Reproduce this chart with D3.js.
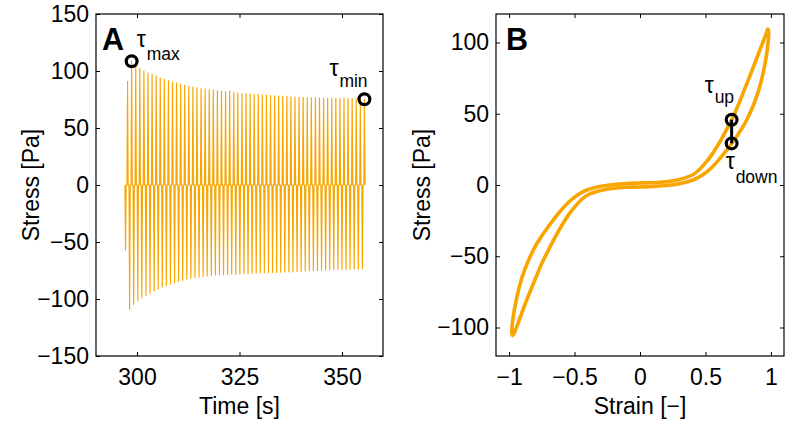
<!DOCTYPE html>
<html><head><meta charset="utf-8">
<script src="https://cdn.jsdelivr.net/npm/d3@7"></script>
<style>
body{margin:0;background:#fff;}
svg text{font-family:"Liberation Sans",Arial,Helvetica,sans-serif;fill:#000;}
</style></head><body>
<svg id="chart" width="786" height="422"></svg>
<script>
// ---------- Panel A data: stress vs time ----------
const peakStartTime = 297.7;   // time of first stress peak [s]
const cyclePeriod = 0.996;     // oscillation period [s]
const peakStress = [91, 108.5, 104, 102, 100, 98.5, 97, 95.5, 94, 92.7, 91.5, 90.4, 89.4, 88.4, 87.5, 86.6, 86, 85.2, 84.6, 84.2,
  83.8, 83.3, 82.8, 82.4, 82, 82.6, 81.2, 80.8, 80.5, 80.2, 80, 79.6, 79.3, 79, 78.7, 78.4, 78.2, 78, 77.8, 77.6,
  77.4, 77.2, 77, 76.9, 76.7, 76.6, 76.5, 76.4, 76.3, 76.2, 76.1, 76, 75.9, 76.3, 75.8, 75.6, 75.5, 75.3, 75.2];
// trough j occurs half a period before peak j
const troughStress = [-57, -109, -104.5, -101.5, -99, -97, -95, -93, -91.2, -89.6, -88.2, -86.9, -85.7, -84.6, -83.6, -82.7, -81.9, -81.2, -80.6, -80.1,
  -79.7, -79.3, -79, -78.8, -78.6, -78.4, -78.3, -78.2, -78, -77.8, -77.6, -77.4, -77.2, -77, -76.9, -76.8, -76.7, -76.6, -76.5, -76.4,
  -76.3, -76.1, -75.9, -75.7, -75.5, -75.3, -75.1, -74.9, -74.7, -74.5, -74.4, -74.2, -74.1, -74, -73.9, -73.8, -73.7, -73.6, -73.5];
const timeTicks = [300, 325, 350];
const stressTicksA = [-150, -100, -50, 0, 50, 100, 150];
const markerPeaksA = [{sub: "max", index: 1}, {sub: "min", index: 58}];

// ---------- Panel B data: stress vs strain (Lissajous loop) ----------
const strainUp = [-0.98, -0.975, -0.955, -0.93, -0.90, -0.85, -0.80, -0.75, -0.70, -0.65, -0.60, -0.55, -0.50, -0.45, -0.40, -0.30,
  -0.20, -0.10, 0, 0.10, 0.20, 0.30, 0.40, 0.45, 0.50, 0.55, 0.60, 0.65, 0.70, 0.75, 0.80, 0.85, 0.90, 0.94, 0.965, 0.975, 0.982];
const stressUp = [-104, -97, -85, -74.5, -64.5, -52.5, -43, -35.7, -29.2, -23, -17.5, -12.5, -8.5, -5.5, -3.3, -0.9,
  0.4, 1.1, 1.4, 1.6, 2.3, 3.9, 7.0, 10.5, 15.5, 21.5, 28.8, 37, 45.8, 56, 67.5, 79, 91, 100.5, 106.5, 109.5, 108];
const strainDown = [-0.98, -0.975, -0.965, -0.94, -0.90, -0.85, -0.80, -0.75, -0.70, -0.65, -0.60, -0.55, -0.50, -0.45, -0.40, -0.30,
  -0.20, -0.10, 0, 0.10, 0.20, 0.30, 0.40, 0.45, 0.50, 0.55, 0.60, 0.65, 0.70, 0.75, 0.80, 0.85, 0.90, 0.93, 0.955, 0.975, 0.982];
const stressDown = [-104, -105.5, -104.5, -99, -89, -77, -66, -55, -45.8, -37, -28.8, -21.5, -15.5, -10.5, -7.0, -3.9,
  -2.3, -1.6, -1.4, -1.1, -0.4, 0.9, 3.3, 5.5, 8.5, 12.5, 17.5, 23, 29.2, 35.7, 43, 52.5, 64.5, 74.5, 85, 97, 108];
const strainTicks = [-1, -0.5, 0, 0.5, 1];
const stressTicksB = [-100, -50, 0, 50, 100];
const markerStrainB = 0.70;
const markerUpB = 45.8;
const markerDownB = 29.2;

// ---------- drawing ----------
const svg = d3.select("#chart");
const ORANGE = "#f8a500";
const FS = 23;
const fmt = v => (v < 0 ? "\u2212" + Math.abs(v) : String(v));

function frame(g, x, y, xTicks, yTicks) {
  const [x0, x1] = x.range(), [y0, y1] = y.range();
  const tk = 4;
  g.append("g").attr("transform", `translate(0,${y0})`)
    .call(d3.axisBottom(x).tickValues(xTicks).tickSize(-tk).tickPadding(13).tickFormat(fmt))
    .call(s => s.select(".domain").remove());
  g.append("g").attr("transform", `translate(0,${y1})`)
    .call(d3.axisTop(x).tickValues(xTicks).tickSize(-tk).tickFormat(""))
    .call(s => s.select(".domain").remove());
  g.append("g").attr("transform", `translate(${x0},0)`)
    .call(d3.axisLeft(y).tickValues(yTicks).tickSize(-tk).tickPadding(7).tickFormat(fmt))
    .call(s => s.select(".domain").remove());
  g.append("g").attr("transform", `translate(${x1},0)`)
    .call(d3.axisRight(y).tickValues(yTicks).tickSize(-tk).tickFormat(""))
    .call(s => s.select(".domain").remove());
  g.selectAll(".tick line").attr("stroke", "#000").attr("stroke-width", 1);
  g.selectAll(".tick text").attr("font-size", FS).attr("font-family", "Liberation Sans, Arial, sans-serif").attr("fill", "#000");
  g.append("rect").attr("x", x0).attr("y", y1).attr("width", x1 - x0).attr("height", y0 - y1)
    .attr("fill", "none").attr("stroke", "#000").attr("stroke-width", 1.2);
}
function ring(g, cx, cy) {
  g.append("circle").attr("cx", cx).attr("cy", cy).attr("r", 5.4)
    .attr("fill", "none").attr("stroke", "#000").attr("stroke-width", 3.2);
}
function tauLabel(g, x, y, sub, subDy) {
  g.append("text").attr("x", x).attr("y", y).attr("font-size", FS).text("\u03C4");
  g.append("text").attr("x", x + 10).attr("y", y + subDy).attr("font-size", 17.5).text(sub);
}

// Panel A
const xA = d3.scaleLinear().domain([290, 360]).range([96, 383]);
const yA = d3.scaleLinear().domain([-150, 150]).range([356, 14]);
const gA = svg.append("g");
const spikeHalf = 0.15;
const pts = [];
peakStress.forEach((p, i) => {
  const tp = peakStartTime + i * cyclePeriod;
  const tt = tp - cyclePeriod / 2;
  pts.push([tt - spikeHalf, 0], [tt, troughStress[i]], [tt + spikeHalf, 0]);
  pts.push([tp - spikeHalf, 0], [tp, p], [tp + spikeHalf, 0]);
});
gA.append("path").datum(pts)
  .attr("d", d3.line().x(d => xA(d[0])).y(d => yA(d[1])))
  .attr("fill", "none").attr("stroke", ORANGE).attr("stroke-width", 1.15).attr("stroke-linejoin", "round");
frame(gA, xA, yA, timeTicks, stressTicksA);

const m0 = markerPeaksA[0], m1 = markerPeaksA[1];
const pMax = [xA(peakStartTime + m0.index * cyclePeriod), yA(peakStress[m0.index])];
const pMin = [xA(peakStartTime + m1.index * cyclePeriod), yA(peakStress[m1.index])];
ring(gA, pMax[0], pMax[1]);
ring(gA, pMin[0], pMin[1]);
tauLabel(gA, pMax[0] + 5, pMax[1] - 14, m0.sub, 12.5);
tauLabel(gA, pMin[0] - 35, pMin[1] - 23, m1.sub, 10.5);
gA.append("text").attr("x", 102).attr("y", 50).attr("font-size", 30.5).attr("font-weight", "bold").text("A");
gA.append("text").attr("x", (xA.range()[0] + xA.range()[1]) / 2).attr("y", 414).attr("text-anchor", "middle")
  .attr("font-size", FS).text("Time [s]");
gA.append("text").attr("transform", `translate(39,${(yA.range()[0] + yA.range()[1]) / 2}) rotate(-90)`)
  .attr("text-anchor", "middle").attr("font-size", FS).text("Stress [Pa]");

// Panel B
const xB = d3.scaleLinear().domain([-1.1, 1.1]).range([496, 784]);
const yB = d3.scaleLinear().domain([-120, 120]).range([356, 14]);
const gB = svg.append("g");
const loop = strainUp.map((s, i) => [s, stressUp[i]])
  .concat(strainDown.map((s, i) => [s, stressDown[i]]).reverse().slice(1));
gB.append("path").datum(loop)
  .attr("d", d3.line().x(d => xB(d[0])).y(d => yB(d[1])).curve(d3.curveCatmullRom.alpha(0.5)))
  .attr("fill", "none").attr("stroke", ORANGE).attr("stroke-width", 3.6).attr("stroke-linejoin", "round");
frame(gB, xB, yB, strainTicks, stressTicksB);
gB.append("line").attr("x1", xB(markerStrainB)).attr("x2", xB(markerStrainB))
  .attr("y1", yB(markerUpB)).attr("y2", yB(markerDownB)).attr("stroke", "#000").attr("stroke-width", 3);
ring(gB, xB(markerStrainB), yB(markerUpB));
ring(gB, xB(markerStrainB), yB(markerDownB));
tauLabel(gB, xB(markerStrainB) - 27, yB(markerUpB) - 27, "up", 10);
tauLabel(gB, xB(markerStrainB) - 6, yB(markerDownB) + 26, "down", 14);
gB.append("text").attr("x", 506).attr("y", 50).attr("font-size", 30.5).attr("font-weight", "bold").text("B");
gB.append("text").attr("x", (xB.range()[0] + xB.range()[1]) / 2).attr("y", 414).attr("text-anchor", "middle")
  .attr("font-size", FS).text("Strain [\u2212]");
gB.append("text").attr("transform", `translate(430,${(yB.range()[0] + yB.range()[1]) / 2}) rotate(-90)`)
  .attr("text-anchor", "middle").attr("font-size", FS).text("Stress [Pa]");
</script></body></html>
